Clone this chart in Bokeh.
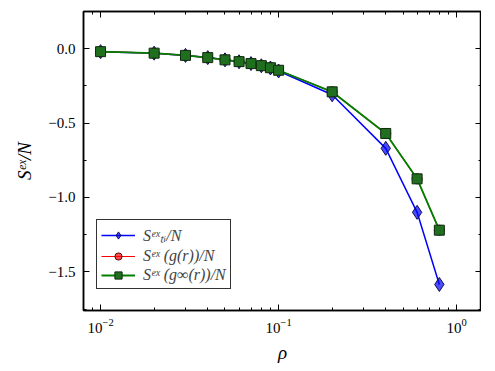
from bokeh.plotting import figure
from bokeh.models import (LogAxis, LinearAxis, Whisker, ColumnDataSource, Legend,
                          LegendItem, LogTicker, SingleIntervalTicker, Range1d, TeeHead,
                          CustomJSTickFormatter)
from bokeh.embed import file_html
from bokeh.resources import INLINE

rho = [0.01, 0.02, 0.03, 0.04, 0.05, 0.06, 0.07, 0.08, 0.09, 0.1, 0.2, 0.4, 0.6, 0.8]
s_ti = [-0.02, -0.03, -0.045, -0.06, -0.075, -0.088, -0.10, -0.115, -0.13, -0.15, -0.31, -0.67, -1.10, -1.585]
s_gr = [-0.02, -0.03, -0.045, -0.06, -0.075, -0.087, -0.10, -0.114, -0.128, -0.145, -0.29, -0.57, -0.875, -1.22]
s_ginf = [-0.02, -0.03, -0.045, -0.06, -0.075, -0.087, -0.10, -0.114, -0.128, -0.145, -0.29, -0.57, -0.875, -1.22]
err_gr = [0.012] * 14
err_ginf = [0.012] * 14

SERIF = "Liberation Serif"

src = ColumnDataSource(dict(
    rho=rho, s_ti=s_ti, s_gr=s_gr, s_ginf=s_ginf,
    gr_lo=[a - b for a, b in zip(s_gr, err_gr)], gr_hi=[a + b for a, b in zip(s_gr, err_gr)],
    gi_lo=[a - b for a, b in zip(s_ginf, err_ginf)], gi_hi=[a + b for a, b in zip(s_ginf, err_ginf)],
))

p = figure(frame_width=398, frame_height=299, x_axis_type="log",
           x_range=Range1d(0.00802, 1.38), y_range=Range1d(-1.76, 0.25),
           output_backend="svg", toolbar_location=None,
           min_border_left=83, min_border_right=0, min_border_top=11, min_border_bottom=0)
p.grid.visible = False
p.outline_line_color = "black"
p.outline_line_width = 1.5
p.background_fill_color = "white"
p.border_fill_color = "white"

xt = LogTicker(mantissas=[1], num_minor_ticks=10)
yt = SingleIntervalTicker(interval=0.5, num_minor_ticks=2)

def style(ax, labels=True):
    ax.major_tick_in = 6
    ax.major_tick_out = 0
    ax.minor_tick_in = 3
    ax.minor_tick_out = 0
    ax.axis_line_color = "black"
    ax.axis_line_width = 1.5
    ax.major_tick_line_color = "black"
    ax.minor_tick_line_color = "black"
    ax.major_label_text_font = SERIF
    ax.major_label_text_font_size = "15px" if labels else "1px"
    ax.major_label_text_color = "black" if labels else None
    ax.axis_label_text_font = SERIF
    ax.axis_label_text_font_style = "italic"
    ax.axis_label_text_font_size = "19px"
    ax.axis_label_text_color = "black"
    if not labels:
        ax.major_label_standoff = 0

p.xaxis[0].ticker = xt
p.yaxis[0].ticker = yt
style(p.xaxis[0])
style(p.yaxis[0])
p.yaxis[0].formatter = CustomJSTickFormatter(code="return tick.toFixed(1).replace('-', '\u2212');")
p.xaxis[0].axis_label = "ρ"
p.yaxis[0].axis_label = "Sᵉˣ/N"
p.xaxis[0].major_label_standoff = 8
p.yaxis[0].major_label_standoff = 8
p.xaxis[0].axis_label_standoff = 6
p.yaxis[0].axis_label_standoff = 10

top = LogAxis(ticker=LogTicker(mantissas=[1], num_minor_ticks=10))
style(top, labels=False)
p.add_layout(top, "above")
right = LinearAxis(ticker=SingleIntervalTicker(interval=0.5, num_minor_ticks=2))
style(right, labels=False)
p.add_layout(right, "right")

# blue TI
l1 = p.line("rho", "s_ti", source=src, line_color="blue", line_width=1.5)
m1 = p.scatter("rho", "s_ti", source=src, marker="diamond", size=14,
               fill_color="blue", fill_alpha=0.7, line_color="#10104a", line_width=1)

# red g(r)
l2 = p.line("rho", "s_gr", source=src, line_color="red", line_width=1.2)
w2 = Whisker(base="rho", lower="gr_lo", upper="gr_hi", source=src, line_color="red",
             lower_head=TeeHead(size=8, line_color="red"), upper_head=TeeHead(size=8, line_color="red"))
p.add_layout(w2)
m2 = p.scatter("rho", "s_gr", source=src, marker="circle", size=10,
               fill_color="red", fill_alpha=0.7, line_color="#4a1010", line_width=1)

# green g_inf(r)
l3 = p.line("rho", "s_ginf", source=src, line_color="green", line_width=1.8)
w3 = Whisker(base="rho", lower="gi_lo", upper="gi_hi", source=src, line_color="black",
             lower_head=TeeHead(size=8, line_color="black"), upper_head=TeeHead(size=8, line_color="black"))
p.add_layout(w3)
m3 = p.scatter("rho", "s_ginf", source=src, marker="square", size=10,
               fill_color="#1f6f1f", fill_alpha=1.0, line_color="#102a10", line_width=1)

legend = Legend(items=[
    LegendItem(label="Sᵉˣₜᵢ/N", renderers=[l1, m1]),
    LegendItem(label="Sᵉˣ (g(r))/N", renderers=[l2, m2]),
    LegendItem(label="Sᵉˣ (g∞(r))/N", renderers=[l3, m3]),
], location=(13, 21))
legend.label_text_font = SERIF
legend.label_text_font_style = "italic"
legend.label_text_font_size = "16px"
legend.label_height = 18
legend.glyph_height = 18
legend.glyph_width = 34
legend.label_standoff = 8
legend.spacing = 1
legend.padding = 4
legend.margin = 0
legend.border_line_color = "black"
legend.border_line_width = 1
legend.border_line_alpha = 0.8
legend.background_fill_alpha = 1.0
p.add_layout(legend)

open("out.html", "w").write(file_html(p, INLINE))
